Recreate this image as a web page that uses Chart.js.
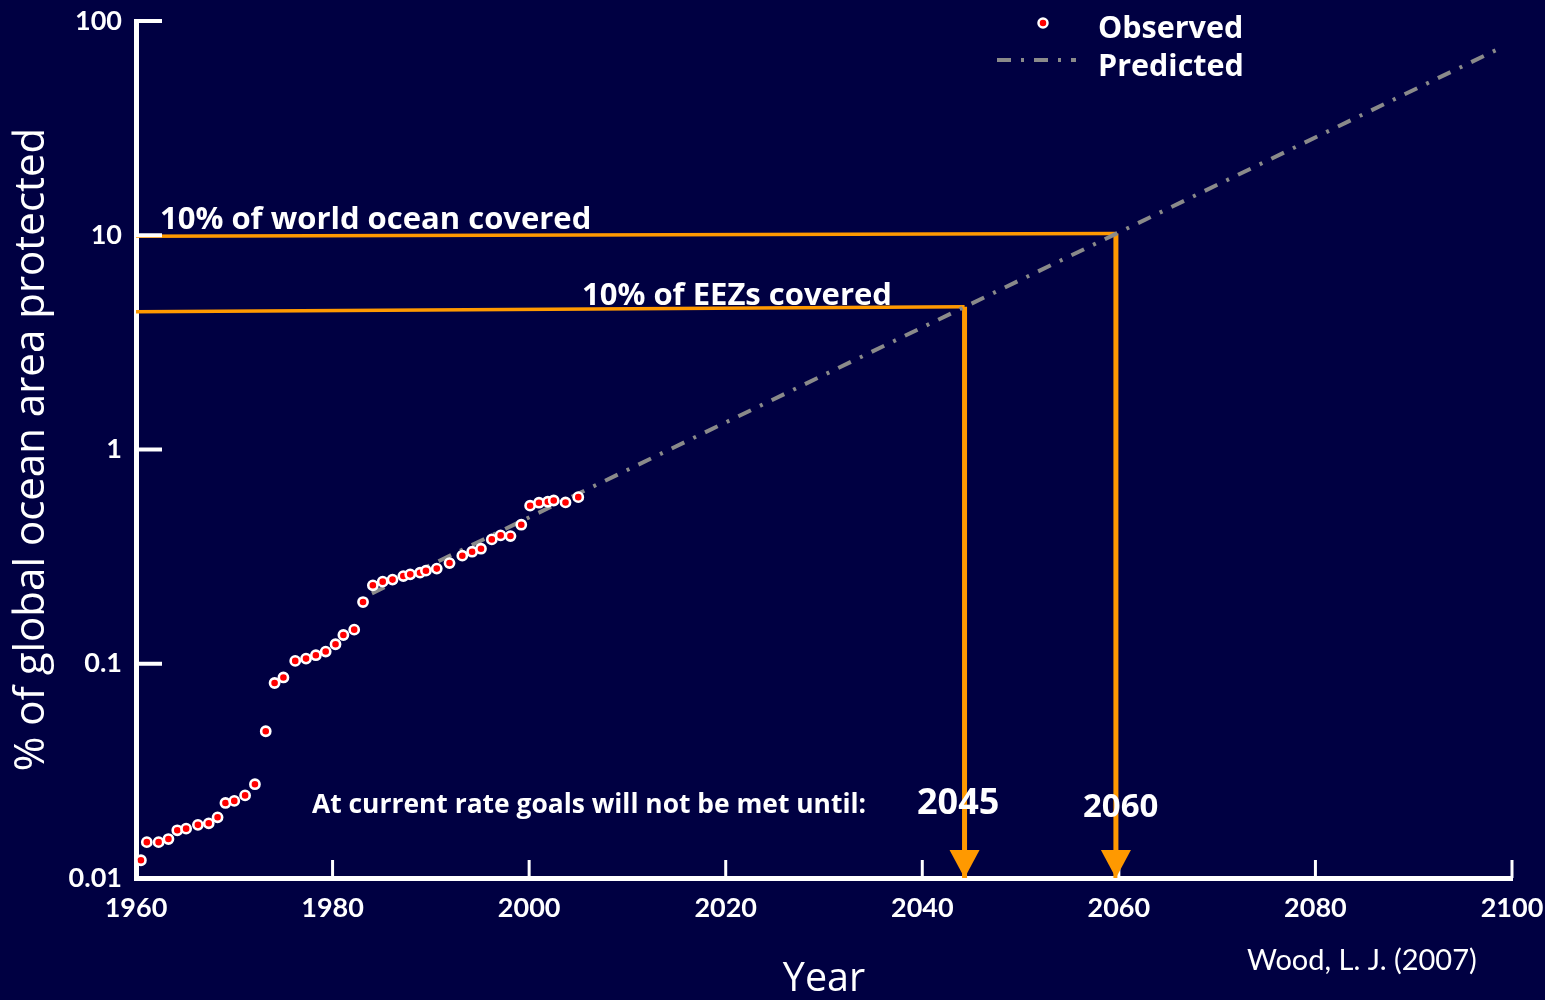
<!DOCTYPE html>
<html>
<head>
<meta charset="utf-8">
<script src="https://cdn.jsdelivr.net/npm/chart.js@4.4.1/dist/chart.umd.min.js"></script>
<style>
  html, body { margin: 0; padding: 0; background: #000042; }
  #wrap { position: relative; width: 1545px; height: 1000px; }
</style>
</head>
<body>
<div id="wrap"><canvas id="chart"></canvas></div>
<script>
// observed coverage (% of global ocean)
const obsYears = [
  1960.5, 1961.1, 1962.3, 1963.3, 1964.2, 1965.1, 1966.3, 1967.4, 1968.3, 1969.1,
  1970.0, 1971.1, 1972.1, 1973.2, 1974.1, 1975.0, 1976.2, 1977.3, 1978.3, 1979.3,
  1980.3, 1981.1, 1982.2, 1983.1, 1984.1, 1985.1, 1986.1, 1987.2, 1987.9, 1988.9,
  1989.5, 1990.6, 1991.9, 1993.2, 1994.2, 1995.1, 1996.2, 1997.1, 1998.1, 1999.2,
  2000.1, 2001.0, 2001.9, 2002.5, 2003.7, 2005.0
]
const obsValues = [
  0.0121, 0.0147, 0.0147, 0.0152, 0.0167, 0.0170, 0.0177, 0.0180, 0.0192, 0.0224,
  0.0229, 0.0243, 0.0274, 0.0484, 0.0813, 0.0863, 0.1031, 0.1057, 0.1096, 0.1140,
  0.1233, 0.1362, 0.1443, 0.1941, 0.2323, 0.2416, 0.2470, 0.2566, 0.2614, 0.2661,
  0.2719, 0.2780, 0.2951, 0.3194, 0.3334, 0.3443, 0.3805, 0.3972, 0.3944, 0.4456,
  0.5467, 0.5645, 0.5702, 0.5781, 0.5662, 0.5993
]

// predicted trend (straight on log axis)
const predYears = [1984, 2098.6]
const predValues = [0.213, 74]

// goal lines: horizontal level, year reached
const goalLabels = ['10% of EEZs covered', '10% of world ocean covered']
const goalYears = [2044.3, 2059.7]
const goalLevelsLeft = [4.4, 9.9]
const goalLevelsRight = [4.64, 10.2]

const xTicks = [1960, 1980, 2000, 2020, 2040, 2060, 2080, 2100]
const yTicks = [0.01, 0.1, 1, 10, 100]
const yTickLabels = ['0.01', '0.1', '1', '10', '100']

const FONT = 'Lato'
const WIDE = '"Open Sans"'
const ORANGE = '#ff9900'
const GREY = '#8a8a8a'
const DASH = [14, 10, 3, 10]

function goalData(i) {
  return [
    { x: 1960, y: goalLevelsLeft[i] },
    { x: goalYears[i], y: goalLevelsRight[i] },
    { x: goalYears[i], y: 0.01 },
  ]
}

// ── extras: inward ticks, arrow heads, labels, legend ─────────────────────
const decor = {
  id: 'decor',
  afterDatasetsDraw(chart) {
    const { ctx, chartArea: a, scales: { x, y } } = chart
    ctx.save()
    ctx.strokeStyle = '#fff'
    ctx.lineWidth = 4
    yTicks.forEach((v) => {
      const py = y.getPixelForValue(v)
      ctx.beginPath(); ctx.moveTo(a.left, py); ctx.lineTo(a.left + 26, py); ctx.stroke()
    })
    ctx.lineWidth = 3
    xTicks.forEach((v) => {
      const px = x.getPixelForValue(v)
      ctx.beginPath(); ctx.moveTo(px, a.bottom); ctx.lineTo(px, a.bottom - 18); ctx.stroke()
    })

    // arrow heads on the goal verticals
    ctx.fillStyle = ORANGE
    goalYears.forEach((g) => {
      const px = x.getPixelForValue(g)
      ctx.beginPath()
      ctx.moveTo(px - 15, a.bottom - 28)
      ctx.lineTo(px + 15, a.bottom - 28)
      ctx.lineTo(px, a.bottom)
      ctx.closePath()
      ctx.fill()
    })
    ctx.restore()
  },
  afterDraw(chart) {
    const { ctx } = chart
    ctx.save()
    ctx.fillStyle = '#fff'
    ctx.textBaseline = 'alphabetic'
    ctx.textAlign = 'left'

    ctx.font = `bold 31px ${WIDE}`
    ctx.fillText(goalLabels[1], 160, 229)
    ctx.fillText(goalLabels[0], 582, 305)

    ctx.font = `bold 26.4px ${WIDE}`
    ctx.fillText('At current rate goals will not be met until:', 312, 813)

    ctx.font = `bold 36px ${WIDE}`
    ctx.fillText('2045', 917, 814)
    ctx.font = `bold 33px ${WIDE}`
    ctx.fillText('2060', 1083, 817)

    ctx.font = `29px ${FONT}`
    ctx.fillText('Wood, L. J. (2007)', 1247, 970)

    // legend
    ctx.font = `bold 30.5px ${WIDE}`
    ctx.fillText('Observed', 1098, 38)
    ctx.fillText('Predicted', 1098, 76)

    ctx.beginPath()
    ctx.arc(1043, 23, 4.5, 0, Math.PI * 2)
    ctx.fillStyle = '#ff0000'
    ctx.fill()
    ctx.lineWidth = 2.5
    ctx.strokeStyle = '#fff'
    ctx.stroke()

    ctx.setLineDash(DASH)
    ctx.strokeStyle = GREY
    ctx.lineWidth = 4
    ctx.beginPath(); ctx.moveTo(997, 60); ctx.lineTo(1076, 60); ctx.stroke()
    ctx.restore()
  },
}

new Chart(document.getElementById('chart'), {
  type: 'scatter',
  data: {
    datasets: [
      {
        label: 'Observed',
        data: obsYears.map((yr, i) => ({ x: yr, y: obsValues[i] })),
        pointRadius: 4.6,
        pointBorderWidth: 2.6,
        pointBackgroundColor: '#ff0000',
        pointBorderColor: '#ffffff',
        order: 0,
      },
      {
        label: 'Predicted',
        data: predYears.map((yr, i) => ({ x: yr, y: predValues[i] })),
        showLine: true,
        borderColor: GREY,
        borderWidth: 4,
        borderDash: DASH,
        pointRadius: 0,
        order: 1,
      },
      ...goalYears.map((g, i) => ({
        label: goalLabels[i],
        data: goalData(i),
        showLine: true,
        borderColor: ORANGE,
        borderWidth: 4,
        segment: {
          borderWidth: (c) => (c.p0.parsed.x === c.p1.parsed.x ? 5 : 3.5),
        },
        pointRadius: 0,
        order: 2,
      })),
    ],
  },
  options: {
    responsive: true,
    maintainAspectRatio: false,
    animation: false,
    layout: { padding: { top: 21, right: 33, left: 0, bottom: 0 } },
    plugins: { legend: { display: false }, tooltip: { enabled: false } },
    scales: {
      x: {
        type: 'linear',
        min: 1960,
        max: 2100,
        afterBuildTicks: (s) => { s.ticks = xTicks.map((v) => ({ value: v })) },
        afterFit: (s) => { s.height = 122; s.paddingLeft = 0; s.paddingRight = 0 },
        grid: { display: false, drawTicks: false },
        border: { display: true, color: '#fff', width: 5 },
        ticks: {
          color: '#fff',
          padding: 14,
          maxRotation: 0,
          font: { family: FONT, size: 27, weight: 'bold' },
          callback: (v) => String(v),
        },
        title: {
          display: true,
          text: 'Year',
          color: '#fff',
          font: { family: WIDE, size: 39.5, weight: 'normal' },
          padding: { top: 0, bottom: -3 },
        },
      },
      y: {
        type: 'logarithmic',
        min: 0.01,
        max: 100,
        afterBuildTicks: (s) => { s.ticks = yTicks.map((v) => ({ value: v })) },
        afterFit: (s) => { s.width = 136; s.paddingTop = 0; s.paddingBottom = 0 },
        grid: { display: false, drawTicks: false },
        border: { display: true, color: '#fff', width: 5 },
        ticks: {
          color: '#fff',
          padding: 14,
          font: { family: FONT, size: 27, weight: 'bold' },
          callback: (v) => yTickLabels[yTicks.indexOf(v)] ?? '',
        },
        title: {
          display: true,
          text: '% of global ocean area protected',
          color: '#fff',
          font: { family: WIDE, size: 42, weight: 'normal' },
          padding: { top: 7, bottom: 0 },
        },
      },
    },
  },
  plugins: [decor],
})
</script>
</body>
</html>
